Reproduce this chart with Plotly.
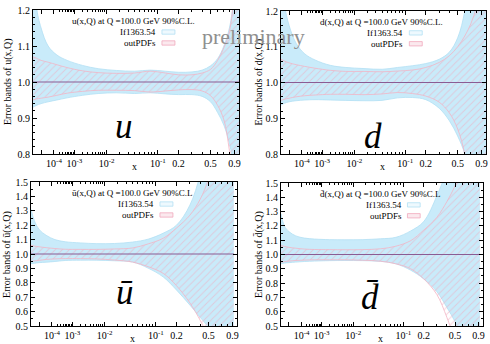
import numpy as np
import plotly.graph_objects as go

# ---------------- data ----------------
# momentum-fraction nodes (valence panels run to x=1, sea panels stop a bit earlier)
x_val = [1e-6, 3e-6, 1e-5, 4e-5, 1.5e-4, 5e-4, 2e-3, 6e-3, 0.017, 0.04, 0.075,
         0.13, 0.2, 0.3, 0.4, 0.5, 0.6, 0.7, 0.8, 0.9, 1.0]
x_sea = [1e-6, 3e-6, 1e-5, 4e-5, 1.5e-4, 5e-4, 2e-3, 6e-3, 0.017, 0.04, 0.075,
         0.13, 0.2, 0.3, 0.4, 0.5, 0.6, 0.7, 0.8, 0.9, 0.93]

# u quark: If1363.54 band (blue) and outPDFs band (pink hatched)
u_if_up = [1.40, 1.21, 1.15, 1.10, 1.075, 1.06, 1.046, 1.037, 1.032, 1.030, 1.033,
           1.030, 1.027, 1.028, 1.033, 1.045, 1.065, 1.10, 1.15, 1.25, 1.50]
u_if_lo = [0.930, 0.935, 0.940, 0.945, 0.950, 0.956, 0.963, 0.968, 0.970, 0.968, 0.970,
           0.967, 0.965, 0.965, 0.960, 0.945, 0.915, 0.880, 0.830, 0.750, 0.550]
u_out_up = [1.070, 1.066, 1.060, 1.055, 1.048, 1.040, 1.031, 1.026, 1.024, 1.025, 1.030,
            1.025, 1.020, 1.020, 1.025, 1.035, 1.060, 1.095, 1.140, 1.250, 1.400]
u_out_lo = [0.950, 0.953, 0.955, 0.958, 0.963, 0.969, 0.974, 0.977, 0.977, 0.976, 0.972,
            0.975, 0.978, 0.979, 0.975, 0.962, 0.935, 0.895, 0.810, 0.700, 0.550]

# d quark
d_if_up = [1.35, 1.22, 1.16, 1.11, 1.08, 1.063, 1.048, 1.042, 1.039, 1.037, 1.042,
           1.047, 1.053, 1.065, 1.085, 1.125, 1.20, 1.35, 1.55, 1.80, 2.10]
d_if_lo = [0.937, 0.942, 0.946, 0.949, 0.951, 0.952, 0.951, 0.950, 0.949, 0.950, 0.957,
           0.958, 0.952, 0.928, 0.893, 0.850, 0.800, 0.700, 0.550, 0.400, 0.200]
d_out_up = [1.065, 1.060, 1.055, 1.050, 1.045, 1.040, 1.034, 1.031, 1.031, 1.030, 1.032,
            1.035, 1.042, 1.056, 1.075, 1.100, 1.130, 1.165, 1.210, 1.260, 1.320]
d_out_lo = [0.950, 0.953, 0.956, 0.960, 0.963, 0.965, 0.967, 0.967, 0.966, 0.968, 0.972,
            0.969, 0.962, 0.945, 0.915, 0.870, 0.800, 0.680, 0.500, 0.300, 0.100]

# u-bar
ub_if_up = [1.31, 1.23, 1.17, 1.13, 1.10, 1.085, 1.077, 1.072, 1.073, 1.083, 1.103,
            1.145, 1.20, 1.34, 1.55, 1.80, 2.1, 2.4, 2.8, 3.2, 3.4]
ub_if_lo = [0.933, 0.936, 0.940, 0.943, 0.948, 0.955, 0.957, 0.957, 0.953, 0.944, 0.902,
            0.840, 0.750, 0.645, 0.560, 0.490, 0.40, 0.30, 0.20, 0.10, 0.05]
ub_out_up = [1.060, 1.055, 1.050, 1.044, 1.038, 1.033, 1.032, 1.032, 1.035, 1.042, 1.070,
             1.110, 1.180, 1.270, 1.380, 1.520, 1.70, 1.90, 2.10, 2.30, 2.40]
ub_out_lo = [0.949, 0.952, 0.956, 0.962, 0.966, 0.968, 0.968, 0.966, 0.958, 0.944, 0.912,
             0.865, 0.780, 0.660, 0.540, 0.420, 0.30, 0.20, 0.10, 0.00, -0.05]

# d-bar
db_if_up = [1.285, 1.20, 1.16, 1.13, 1.115, 1.108, 1.104, 1.103, 1.104, 1.110, 1.120,
            1.165, 1.23, 1.41, 1.60, 1.90, 2.2, 2.5, 2.8, 3.1, 3.2]
db_if_lo = [0.935, 0.940, 0.943, 0.947, 0.951, 0.954, 0.957, 0.958, 0.957, 0.952, 0.935,
            0.890, 0.830, 0.740, 0.630, 0.530, 0.42, 0.30, 0.20, 0.10, 0.05]
db_out_up = [1.063, 1.057, 1.050, 1.044, 1.038, 1.035, 1.034, 1.033, 1.034, 1.040, 1.058,
             1.097, 1.170, 1.260, 1.370, 1.480, 1.60, 1.75, 1.90, 2.05, 2.10]
db_out_lo = [0.946, 0.950, 0.954, 0.958, 0.961, 0.963, 0.963, 0.963, 0.960, 0.953, 0.935,
             0.900, 0.830, 0.720, 0.560, 0.400, 0.25, 0.10, 0.00, -0.10, -0.15]

x_major = [1e-5, 1e-4, 1e-3, 1e-2, 0.1, 0.2, 0.5, 0.9]
x_major_text = ["", "10<sup>-4</sup>", "10<sup>-3</sup>", "10<sup>-2</sup>",
                "10<sup>-1</sup>", "0.2", "0.5", "0.9"]
x_minor = ([k * 1e-4 for k in range(2, 10)] + [k * 1e-3 for k in range(2, 10)] +
           [k * 1e-2 for k in range(2, 10)] + [0.3, 0.4, 0.6, 0.7, 0.8])
# ---------------------------------------

SERIF = "Liberation Serif"
BLUE_FILL = "#c9ebfa"
BLUE_EDGE = "#b3e0f4"
PINK = "#f0a8bc"
PINK_EDGE = "#f2b4c4"
CENTRAL = "#8a5c94"
X_POW = 0.2  # the x axis is drawn on an x^(1/5) scale


def scale_x(v):
    return (np.asarray(v, dtype=float)) ** X_POW


panels = [
    dict(x=x_val, bands=(u_if_up, u_if_lo, u_out_up, u_out_lo), yr=(0.8, 1.2),
         dom_x=(33, 239), dom_y=(10, 154), minor=0.02,
         title="u(x,Q) at Q =100.0 GeV 90%C.L.", ytitle="Error bands of u(x,Q)",
         big="<i>u</i>", big_pos=(0.444, 0.19), ytx=-0.121),
    dict(x=x_val, bands=(d_if_up, d_if_lo, d_out_up, d_out_lo), yr=(0.8, 1.2),
         dom_x=(281, 486), dom_y=(11, 154), minor=0.02,
         title="d(x,Q) at Q =100.0 GeV 90%C.L.", ytitle="Error bands of d(x,Q)",
         big="<i>d</i>", big_pos=(0.451, 0.122), ytx=-0.112),
    dict(x=x_sea, bands=(ub_if_up, ub_if_lo, ub_out_up, ub_out_lo), yr=(0.5, 1.5),
         dom_x=(31, 237), dom_y=(182, 326), minor=0.05,
         title="ū(x,Q) at Q =100.0 GeV 90%C.L", ytitle="Error bands of ū(x,Q)",
         big="<i>ū</i>", big_pos=(0.454, 0.233), ytx=-0.117),
    dict(x=x_sea, bands=(db_if_up, db_if_lo, db_out_up, db_out_lo), yr=(0.5, 1.5),
         dom_x=(281, 483), dom_y=(183, 326), minor=0.05,
         title="d̄(x,Q) at Q =100.0 GeV 90%C.L", ytitle="Error bands of d̄(x,Q)",
         big="<i>d̄</i>", big_pos=(0.441, 0.198), ytx=-0.112),
]

W, H = 490, 344
fig = go.Figure()
annotations = []
shapes = []
layout_axes = {}

for i, p in enumerate(panels, start=1):
    xa = "x" if i == 1 else f"x{i}"
    ya = "y" if i == 1 else f"y{i}"
    xkey = "xaxis" if i == 1 else f"xaxis{i}"
    ykey = "yaxis" if i == 1 else f"yaxis{i}"
    t = scale_x(p["x"])
    if_up, if_lo, out_up, out_lo = p["bands"]

    # If1363.54 band
    fig.add_trace(go.Scatter(x=t, y=if_lo, mode="lines", line=dict(color=BLUE_EDGE, width=0.8, shape="spline"),
                             xaxis=xa, yaxis=ya, showlegend=False, hoverinfo="skip"))
    fig.add_trace(go.Scatter(x=t, y=if_up, mode="lines", line=dict(color=BLUE_EDGE, width=0.8, shape="spline"),
                             fill="tonexty", fillcolor=BLUE_FILL,
                             xaxis=xa, yaxis=ya, showlegend=False, hoverinfo="skip"))
    # outPDFs band (hatched)
    fig.add_trace(go.Scatter(x=t, y=out_lo, mode="lines", line=dict(color=PINK_EDGE, width=0.8, shape="spline"),
                             xaxis=xa, yaxis=ya, showlegend=False, hoverinfo="skip"))
    fig.add_trace(go.Scatter(x=t, y=out_up, mode="lines", line=dict(color=PINK_EDGE, width=0.8, shape="spline"),
                             fill="tonexty", fillcolor="rgba(0,0,0,0)",
                             fillpattern=dict(shape="/", fgcolor=PINK, bgcolor="rgba(0,0,0,0)",
                                              size=5, solidity=0.2, fillmode="overlay"),
                             xaxis=xa, yaxis=ya, showlegend=False, hoverinfo="skip"))
    # central ratio
    fig.add_trace(go.Scatter(x=t, y=[1.0] * len(t), mode="lines", line=dict(color=CENTRAL, width=1.2),
                             xaxis=xa, yaxis=ya, showlegend=False, hoverinfo="skip"))

    x0, x1 = p["dom_x"]
    top, bot = p["dom_y"]
    y0, y1 = p["yr"]
    axis_common = dict(showline=True, linecolor="black", linewidth=1, mirror="ticks",
                       ticks="inside", ticklen=4, tickcolor="black", showgrid=False,
                       zeroline=False, automargin=False,
                       tickfont=dict(family=SERIF, size=10, color="black"))
    layout_axes[xkey] = dict(
        domain=[x0 / W, x1 / W], anchor=ya, range=[float(scale_x(1e-6)), 1.0],
        tickmode="array", tickvals=[float(v) for v in scale_x(x_major)], ticktext=x_major_text,
        minor=dict(tickmode="array", tickvals=[float(v) for v in scale_x(x_minor)], ticks="inside",
                   ticklen=2, tickcolor="black"),
        **axis_common)
    layout_axes[ykey] = dict(
        domain=[1 - bot / H, 1 - top / H], anchor=xa, range=[y0, y1],
        tickmode="linear", tick0=y0, dtick=0.1, tickformat=".1f",
        minor=dict(dtick=p["minor"], ticks="inside", ticklen=2, tickcolor="black"),
        **axis_common)

    xd, yd = f"{xa} domain", f"{ya} domain"
    small = dict(family=SERIF, size=9, color="black")
    annotations += [
        dict(text=p["title"], x=0.49, y=0.924, xref=xd, yref=yd, showarrow=False,
             xanchor="center", yanchor="middle", font=small),
        dict(text="If1363.54", x=0.607, y=0.847, xref=xd, yref=yd, showarrow=False,
             xanchor="right", yanchor="middle", font=small),
        dict(text="outPDFs", x=0.607, y=0.771, xref=xd, yref=yd, showarrow=False,
             xanchor="right", yanchor="middle", font=small),
        dict(text=p["big"], x=p["big_pos"][0], y=p["big_pos"][1], xref=xd, yref=yd,
             showarrow=False, xanchor="center", yanchor="middle",
             font=dict(family=SERIF, size=35, color="black")),
        dict(text="x", x=0.495, y=-0.09, xref=xd, yref=yd, showarrow=False,
             xanchor="center", yanchor="middle", font=dict(family=SERIF, size=10, color="black")),
        dict(text=p["ytitle"], x=p["ytx"], y=0.5, xref=xd, yref=yd, showarrow=False,
             textangle=-90, xanchor="center", yanchor="middle",
             font=dict(family=SERIF, size=10, color="black")),
    ]
    # legend keys
    shapes += [
        dict(type="rect", xref=xd, yref=yd, x0=0.626, x1=0.689, y0=0.832, y1=0.862,
             line=dict(color=BLUE_EDGE, width=0.8), fillcolor="#eef9fe"),
        dict(type="rect", xref=xd, yref=yd, x0=0.626, x1=0.689, y0=0.756, y1=0.786,
             line=dict(color=PINK, width=0.8), fillcolor="#fbe9ee"),
    ]

annotations.append(dict(text="preliminary", x=253 / W, y=1 - 37 / H, xref="paper", yref="paper",
                        showarrow=False, xanchor="center", yanchor="middle",
                        font=dict(family=SERIF, size=22, color="#8f8f8f")))

fig.update_layout(width=W, height=H, margin=dict(l=0, r=0, t=0, b=0),
                  paper_bgcolor="white", plot_bgcolor="white", template="none",
                  showlegend=False, annotations=annotations, shapes=shapes, **layout_axes)

fig.write_html("out.html")
